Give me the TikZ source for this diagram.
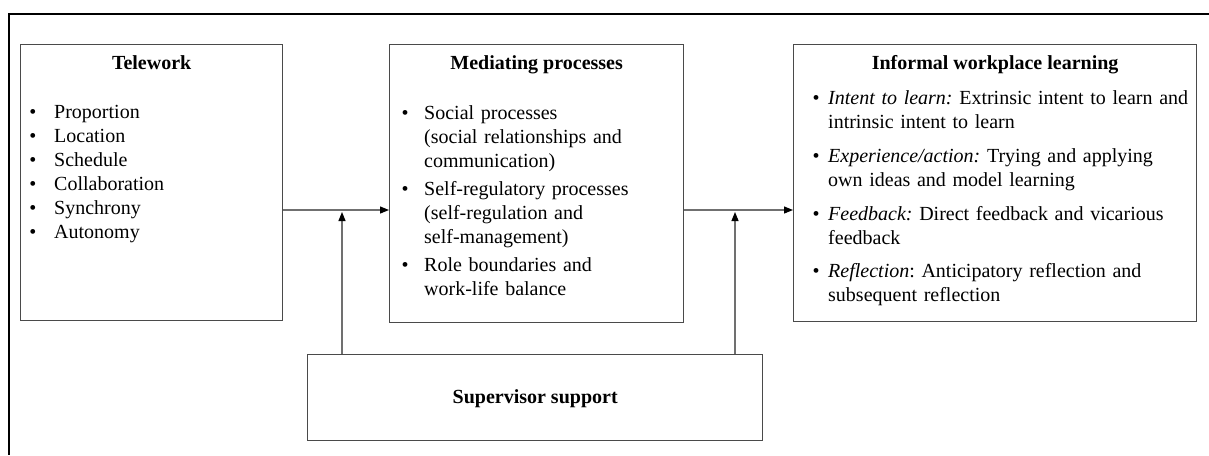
\documentclass[tikz,border=0pt]{standalone}
\usepackage{fontspec}
\setmainfont{Liberation Serif}
\usetikzlibrary{arrows.meta}
\definecolor{boxline}{HTML}{4A4A4A}
\definecolor{linkline}{HTML}{707070}
\frenchspacing
\begin{document}
\begin{tikzpicture}[x=1pt,y=-1pt,
  box/.style={draw=boxline, line width=1.3pt, inner sep=0pt, anchor=north west},
  ttl/.style={font=\fontsize{20}{24}\selectfont\bfseries, inner sep=0pt, anchor=base},
  bul/.style={font=\fontsize{20}{24}\selectfont, inner sep=0pt, anchor=base},
  txt/.style={font=\fontsize{20}{24}\selectfont\frenchspacing, inner sep=0pt, anchor=base west,
              align=left, text width=380pt},
  link/.style={draw=linkline, line width=1.2pt,
               -{Triangle[length=9pt,width=7pt,color=black]}},
  frame/.style={draw=black, line width=2pt}
]
\useasboundingbox (0,0) rectangle (1209,455);

% partial outer frame
\draw[frame] (1209,14) -- (9,14) -- (9,455);

% boxes
\node[box, minimum width=262pt, minimum height=276pt] (tw)  at (20,44)  {};
\node[box, minimum width=294pt, minimum height=278pt] (mp)  at (389,44) {};
\node[box, minimum width=403pt, minimum height=277pt] (iwl) at (793,44) {};
\node[box, minimum width=455pt, minimum height=86pt]  (sup) at (307,354) {};

% titles
\node[ttl] (twt) at (tw.center |- 0,69)  {Telework};
\node[ttl] (mpt) at (mp.center |- 0,69)  {Mediating processes};
\node[ttl] (iwt) at (iwl.center |- 0,69) {Informal workplace learning};
\node[ttl] (spt) at ([yshift=-6pt]sup.center) {Supervisor support};

% telework dimensions
\foreach \t [count=\i from 0] in {Proportion,Location,Schedule,Collaboration,Synchrony,Autonomy}{
  \node[bul] (twb\i) at (33,{118+24*\i}) {\textbullet};
  \node[txt] (twi\i) at (54,{118+24*\i}) {\t};
}

% mediating processes
\node[bul] (mpb1) at (405,119) {\textbullet};
\node[txt] (mpi1) at (424,119) {Social processes\\(social relationships and\\communication)};
\node[bul] (mpb2) at (405,195) {\textbullet};
\node[txt] (mpi2) at (424,195) {Self-regulatory processes\\(self-regulation and\\self-management)};
\node[bul] (mpb3) at (405,271) {\textbullet};
\node[txt] (mpi3) at (424,271) {Role boundaries and\\work-life balance};

% informal workplace learning
\node[bul] (iwb1) at (816,104) {\textbullet};
\node[txt] (iwi1) at (828,104) {\textit{Intent to learn:} Extrinsic intent to learn and\\intrinsic intent to learn};
\node[bul] (iwb2) at (816,162) {\textbullet};
\node[txt] (iwi2) at (828,162) {\textit{Experience/action:} Trying and applying\\own ideas and model learning};
\node[bul] (iwb3) at (816,220) {\textbullet};
\node[txt] (iwi3) at (828,220) {\textit{Feedback:} Direct feedback and vicarious\\feedback};
\node[bul] (iwb4) at (816,277) {\textbullet};
\node[txt] (iwi4) at (828,277) {\textit{Reflection}: Anticipatory reflection and\\subsequent reflection};

% connectors
\coordinate (j1) at (342,212);
\coordinate (j2) at (735,212);
\draw[link] (tw.east |- 0,210) -- (mp.west |- 0,210);
\draw[link] (mp.east |- 0,210) -- (iwl.west |- 0,210);
\draw[link] (sup.north -| j1) -- (j1);
\draw[link] (sup.north -| j2) -- (j2);
\end{tikzpicture}
\end{document}
